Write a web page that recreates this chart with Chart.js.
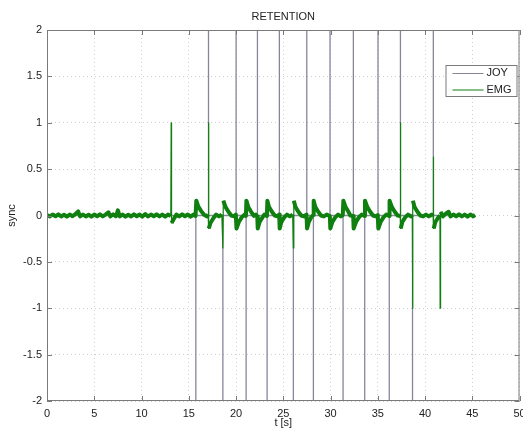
<!DOCTYPE html>
<html>
<head>
<meta charset="utf-8">
<script src="https://cdn.jsdelivr.net/npm/chart.js@4"></script>
<style>
  html, body { margin: 0; padding: 0; background: #fff; }
</style>
</head>
<body>
<canvas id="syncChart" width="523" height="430"></canvas>
<script>
// x ticks (seconds) and y ticks
const xTicks = [0, 5, 10, 15, 20, 25, 30, 35, 40, 45, 50];
const yTicks = [-2, -1.5, -1, -0.5, 0, 0.5, 1, 1.5, 2];

// JOY sync pulses: [time, peak] (peaks run past the axis and get clipped)
const joySpikes = [
  [15.75, -2.6], [17.09, 2.6], [18.61, -2.6], [20.01, 2.6], [21.07, -2.6],
  [22.27, 2.6], [23.29, -2.6], [24.59, 2.6], [26.07, -2.6], [27.49, 2.6],
  [28.19, -2.6], [29.95, 2.6], [31.33, -2.6], [32.42, 2.6], [33.62, -2.6],
  [35.03, 2.6], [36.22, -2.6], [37.4, 2.6], [38.68, -2.6], [40.88, 2.6],
];
const joyStart = 0;
const joyEnd = 45.3;

// EMG trace: [time, value]
const emgPoints = [
  [0, 0.005], [0.3, -0.01], [0.6, 0.01], [0.9, -0.008], [1.2, 0.012], [1.5, -0.01],
  [1.8, 0.008], [2.1, -0.012], [2.4, 0.01], [2.7, -0.008], [3.0, 0.015], [3.3, 0.045],
  [3.5, -0.01], [3.8, 0.01], [4.1, -0.01], [4.4, 0.008], [4.7, -0.012], [5.0, 0.01],
  [5.3, -0.008], [5.6, 0.012], [5.9, -0.01], [6.2, 0.01], [6.5, 0.035], [6.7, -0.01],
  [7.0, 0.012], [7.3, -0.008], [7.5, 0.055], [7.7, -0.01], [8.0, 0.01], [8.3, -0.012],
  [8.6, 0.008], [8.9, -0.01], [9.2, 0.012], [9.5, -0.008], [9.8, 0.01], [10.1, -0.012],
  [10.4, 0.015], [10.7, -0.01], [11.0, 0.01], [11.3, -0.008], [11.6, 0.012], [11.9, -0.01],
  [12.2, 0.01], [12.5, -0.012], [12.8, 0.01], [13.1, -0.005],
  [13.14, 1.0], [13.18, -0.08], [13.4, -0.04], [13.7, 0.01], [14.0, -0.01], [14.3, 0.012],
  [14.6, -0.008], [14.9, 0.01], [15.2, -0.012], [15.5, 0.01], [15.72, -0.005],
  [15.8, 0.16], [16.0, 0.1], [16.3, 0.05], [16.6, 0.01], [16.9, -0.01], [17.05, 0.01],
  [17.09, 1.0], [17.12, -0.14], [17.3, -0.08], [17.6, -0.03], [17.9, 0.01], [18.2, -0.01], [18.5, 0.01],
  [18.61, -0.35], [18.66, 0.16], [18.9, 0.09], [19.2, 0.04], [19.5, 0.0], [19.8, -0.01], [19.98, 0.01],
  [20.05, -0.14], [20.3, -0.07], [20.6, -0.02], [20.9, 0.01], [21.05, -0.005],
  [21.1, 0.16], [21.3, 0.09], [21.6, 0.04], [21.9, -0.005], [22.1, 0.01], [22.25, -0.01],
  [22.3, -0.14], [22.5, -0.07], [22.8, -0.02], [23.0, 0.01], [23.27, -0.005],
  [23.32, 0.16], [23.5, 0.09], [23.8, 0.04], [24.1, 0.0], [24.4, -0.01], [24.57, 0.01],
  [24.62, -0.14], [24.8, -0.07], [25.1, -0.02], [25.4, 0.01], [25.7, -0.01], [26.0, 0.01],
  [26.07, -0.35], [26.12, 0.16], [26.3, 0.09], [26.6, 0.04], [26.9, 0.0], [27.2, -0.01], [27.46, 0.01],
  [27.52, -0.14], [27.7, -0.07], [27.95, -0.02], [28.17, 0.005],
  [28.22, 0.16], [28.4, 0.09], [28.7, 0.04], [29.0, 0.0], [29.3, -0.01], [29.6, 0.01], [29.93, -0.005],
  [29.98, -0.14], [30.2, -0.07], [30.5, -0.02], [30.8, 0.01], [31.1, -0.01], [31.3, 0.005],
  [31.36, 0.16], [31.6, 0.09], [31.9, 0.04], [32.1, 0.0], [32.4, -0.005],
  [32.45, -0.14], [32.7, -0.07], [33.0, -0.02], [33.3, 0.01], [33.6, -0.005],
  [33.65, 0.16], [33.9, 0.09], [34.2, 0.04], [34.5, 0.0], [34.8, -0.01], [35.0, 0.005],
  [35.06, -0.14], [35.3, -0.07], [35.6, -0.02], [35.9, 0.01], [36.2, -0.005],
  [36.25, 0.16], [36.5, 0.09], [36.8, 0.04], [37.1, 0.0], [37.37, -0.005],
  [37.4, 1.0], [37.43, -0.14], [37.6, -0.07], [37.9, -0.02], [38.2, 0.01], [38.5, -0.01], [38.66, 0.005],
  [38.68, -1.0], [38.72, 0.16], [38.9, 0.09], [39.2, 0.04], [39.5, 0.0], [39.8, -0.01], [40.1, 0.01],
  [40.4, -0.01], [40.7, 0.01], [40.86, -0.005],
  [40.88, 0.63], [40.92, -0.14], [41.1, -0.07], [41.35, -0.03], [41.58, 0.0],
  [41.6, -1.0], [41.65, 0.04], [41.9, -0.01], [42.2, 0.02], [42.5, 0.04], [42.7, -0.01],
  [43.0, 0.01], [43.3, -0.008], [43.6, 0.012], [43.9, -0.01], [44.2, 0.01], [44.5, -0.012],
  [44.8, 0.01], [45.1, -0.008], [45.3, 0.005],
];

// JOY line: flat at 0 with a vertical stroke at every pulse
const joyPoints = [{ x: joyStart, y: 0 }];
joySpikes.forEach(([t, peak]) => {
  joyPoints.push({ x: t, y: 0 }, { x: t, y: peak }, { x: t, y: 0 });
});
joyPoints.push({ x: joyEnd, y: 0 });

const FONT = "'Liberation Sans', Arial, sans-serif";
const TEXT = "#222";
const FRAME = "#7a7a7a";

// thin strokes for the tall EMG spikes, a thick noisy band elsewhere
const emgWidth = (c) =>
  Math.abs(c.p0.parsed.y) > 0.3 || Math.abs(c.p1.parsed.y) > 0.3 ? 1.2 : 4;

// MATLAB-like box, inward ticks on all sides and a boxed legend
const matlabFrame = {
  id: "matlabFrame",
  afterDraw(chart) {
    const { ctx, chartArea: a, scales } = chart;
    ctx.save();
    ctx.setLineDash([]);
    ctx.strokeStyle = FRAME;
    ctx.lineWidth = 1;
    ctx.strokeRect(a.left + 0.5, a.top + 0.5, a.right - a.left - 1, a.bottom - a.top - 1);

    ctx.beginPath();
    scales.x.ticks.forEach((t) => {
      const px = Math.round(scales.x.getPixelForValue(t.value)) + 0.5;
      ctx.moveTo(px, a.top);
      ctx.lineTo(px, a.top + 5);
      ctx.moveTo(px, a.bottom);
      ctx.lineTo(px, a.bottom - 5);
    });
    scales.y.ticks.forEach((t) => {
      const py = Math.round(scales.y.getPixelForValue(t.value)) + 0.5;
      ctx.moveTo(a.left, py);
      ctx.lineTo(a.left + 5, py);
      ctx.moveTo(a.right, py);
      ctx.lineTo(a.right - 5, py);
    });
    ctx.stroke();

    // legend
    const lx = a.right - 74, ly = a.top + 35, lw = 72, lh = 32;
    ctx.fillStyle = "#fff";
    ctx.fillRect(lx, ly, lw, lh);
    ctx.strokeStyle = FRAME;
    ctx.strokeRect(lx + 0.5, ly + 0.5, lw - 1, lh - 1);
    ctx.font = "11px " + FONT;
    ctx.textBaseline = "middle";
    ctx.textAlign = "left";
    chart.data.datasets.forEach((ds, i) => {
      const y = ly + 8 + i * 16.5;
      ctx.strokeStyle = ds.borderColor;
      ctx.lineWidth = 1;
      ctx.beginPath();
      ctx.moveTo(lx + 7, y + 0.5);
      ctx.lineTo(lx + 38, y + 0.5);
      ctx.stroke();
      ctx.fillStyle = TEXT;
      ctx.fillText(ds.label, lx + 41, y);
    });
    ctx.restore();
  },
};

new Chart(document.getElementById("syncChart"), {
  type: "scatter",
  data: {
    datasets: [
      {
        label: "JOY",
        data: joyPoints,
        showLine: true,
        borderColor: "#86869a",
        borderWidth: 1.3,
        pointRadius: 0,
        order: 2,
      },
      {
        label: "EMG",
        data: emgPoints.map(([x, y]) => ({ x, y })),
        showLine: true,
        borderColor: "#0f7f0f",
        borderWidth: 4,
        borderJoinStyle: "round",
        segment: { borderWidth: emgWidth },
        pointRadius: 0,
        order: 1,
      },
    ],
  },
  options: {
    responsive: false,
    animation: false,
    devicePixelRatio: 1,
    layout: { padding: { top: 0, right: 3.5, left: 0, bottom: 0 } },
    plugins: {
      legend: { display: false },
      tooltip: { enabled: false },
      title: {
        display: true,
        text: "RETENTION",
        fullSize: false,
        color: TEXT,
        font: { family: FONT, size: 11, weight: "normal", lineHeight: 1.2 },
        padding: { top: 10.4, bottom: 6.4 },
      },
    },
    scales: {
      x: {
        type: "linear",
        min: 0,
        max: 50,
        afterBuildTicks: (s) => { s.ticks = xTicks.map((v) => ({ value: v })); },
        afterFit: (s) => { s.height = 29; s.paddingLeft = 0; s.paddingRight = 0; },
        ticks: { color: TEXT, font: { family: FONT, size: 11 }, padding: 6, maxRotation: 0, autoSkip: false },
        grid: { color: "#cfcfcf", drawTicks: false },
        border: { display: false, dash: [1, 3] },
        title: {
          display: true,
          text: "t [s]",
          color: TEXT,
          font: { family: FONT, size: 11, lineHeight: 1.2 },
          padding: { top: 0, bottom: 0 },
        },
      },
      y: {
        type: "linear",
        min: -2,
        max: 2,
        afterBuildTicks: (s) => { s.ticks = yTicks.map((v) => ({ value: v })); },
        afterFit: (s) => { s.width = 47; s.paddingTop = 0; s.paddingBottom = 0; },
        ticks: {
          color: TEXT,
          font: { family: FONT, size: 11 },
          padding: 5,
          autoSkip: false,
          callback: (v) => String(+v.toFixed(2)),
        },
        grid: { color: "#cfcfcf", drawTicks: false },
        border: { display: false, dash: [1, 3] },
        title: {
          display: true,
          text: "sync",
          color: TEXT,
          font: { family: FONT, size: 11, lineHeight: 1.2 },
          padding: { top: 5, bottom: 0 },
        },
      },
    },
  },
  plugins: [matlabFrame],
});
</script>
</body>
</html>
